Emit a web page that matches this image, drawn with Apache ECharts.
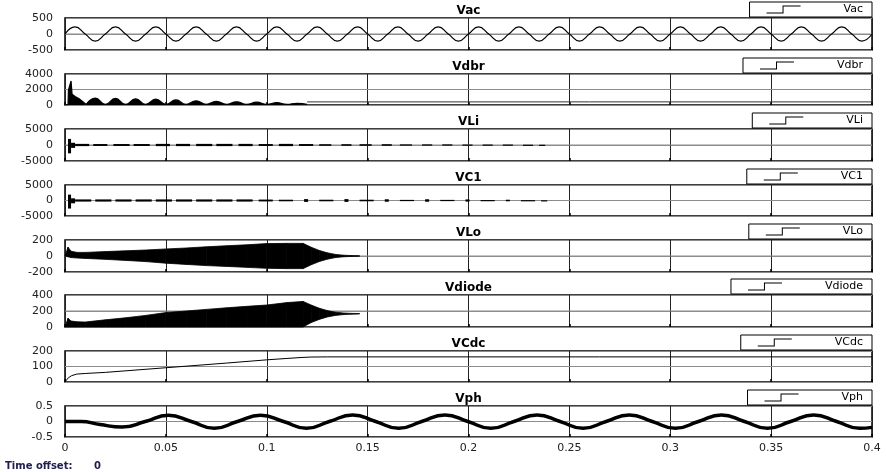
<!DOCTYPE html>
<html>
<head>
<meta charset="utf-8">
<script src="https://cdn.jsdelivr.net/npm/echarts@6/dist/echarts.min.js"></script>
<style>
  html, body { margin: 0; background: #fff; }
  #chart { width: 886px; height: 472px; }
</style>
</head>
<body>
<div id="chart"></div>
<script>
// ---- panels (top to bottom) ----
const names = ['Vac', 'Vdbr', 'VLi', 'VC1', 'VLo', 'Vdiode', 'VCdc', 'Vph'];
const yMins = [-500, 0, -5000, -5000, -200, 0, 0, -0.5];
const yMaxs = [500, 4000, 5000, 5000, 200, 400, 200, 0.5];
const yIntervals = [500, 2000, 5000, 5000, 200, 200, 100, 0.5];
const xTicks = [0, 0.4, 0.05]; // min, max, step

// Vac: peaks / zero crossings every 5 ms
const vacStep = 0.005;
const vacValues = [
  0, 220, 0, -220, 0, 220, 0, -220, 0, 220, 0, -220, 0, 220, 0, -220, 0, 220, 0, -220,
  0, 220, 0, -220, 0, 220, 0, -220, 0, 220, 0, -220, 0, 220, 0, -220, 0, 220, 0, -220,
  0, 220, 0, -220, 0, 220, 0, -220, 0, 220, 0, -220, 0, 220, 0, -220, 0, 220, 0, -220,
  0, 220, 0, -220, 0, 220, 0, -220, 0, 220, 0, -220, 0, 220, 0, -220, 0, 220, 0, -220, 0
];

// Vdbr: start-up spike, rectified humps, then flat
const vdbrSpikeT = [0, 0.0015, 0.0017, 0.0025, 0.003, 0.0035, 0.005, 0.007, 0.009, 0.0105];
const vdbrSpikeV = [0, 0, 1900, 1900, 3100, 1400, 1100, 800, 400, 80];
const vdbrHumpT = [0.0105, 0.015, 0.02, 0.025, 0.03, 0.035, 0.04, 0.045, 0.05, 0.055, 0.06, 0.065, 0.07,
  0.075, 0.08, 0.085, 0.09, 0.095, 0.1, 0.105, 0.11, 0.115, 0.12];
const vdbrHumpV = [80, 900, 80, 850, 80, 800, 80, 750, 80, 650, 80, 550, 80,
  480, 80, 420, 80, 360, 80, 300, 80, 220, 80];
const vdbrFlatT = [0.12, 0.4];
const vdbrFlatV = [400, 400];

// VLi / VC1: bursts as [start, end, low, high]
const vliBursts = [
  [0.0015, 0.003, -2600, 1900], [0.003, 0.005, -900, 700],
  [0.005, 0.012, -350, 350], [0.014, 0.021, -300, 300], [0.024, 0.032, -300, 300],
  [0.034, 0.042, -300, 300], [0.045, 0.052, -350, 350], [0.055, 0.062, -350, 350],
  [0.065, 0.073, -350, 350], [0.075, 0.083, -350, 350], [0.086, 0.093, -350, 350],
  [0.096, 0.103, -300, 300], [0.106, 0.113, -350, 350], [0.116, 0.123, -300, 300],
  [0.126, 0.132, -250, 250], [0.137, 0.142, -250, 250], [0.146, 0.152, -250, 250],
  [0.157, 0.162, -250, 250], [0.166, 0.172, -200, 200], [0.177, 0.182, -200, 200],
  [0.187, 0.192, -200, 200], [0.197, 0.202, -150, 150], [0.207, 0.212, -150, 150],
  [0.217, 0.222, -150, 150], [0.227, 0.232, -100, 100], [0.235, 0.238, -80, 80]
];
const vc1Bursts = [
  [0.0015, 0.003, -2600, 1900], [0.003, 0.005, -900, 700],
  [0.005, 0.013, -350, 350], [0.015, 0.023, -350, 350], [0.025, 0.033, -350, 350],
  [0.035, 0.043, -350, 350], [0.045, 0.053, -350, 350], [0.055, 0.063, -350, 350],
  [0.065, 0.073, -350, 350], [0.075, 0.083, -350, 350], [0.085, 0.093, -350, 350],
  [0.096, 0.103, -300, 300], [0.106, 0.113, -250, 250], [0.1185, 0.1205, -450, 450],
  [0.126, 0.133, -250, 250], [0.1385, 0.1405, -450, 450], [0.146, 0.153, -250, 250],
  [0.1585, 0.1605, -400, 400], [0.166, 0.173, -200, 200], [0.1785, 0.1805, -400, 400],
  [0.186, 0.193, -200, 200], [0.1985, 0.2005, -350, 350], [0.206, 0.213, -150, 150],
  [0.2185, 0.2205, -250, 250], [0.226, 0.233, -120, 120], [0.236, 0.239, -80, 80]
];

// VLo / Vdiode: envelope of the fast switching ripple
const vloT = [0, 0.0015, 0.003, 0.006, 0.01, 0.02, 0.03, 0.04, 0.05, 0.06, 0.07, 0.08, 0.09, 0.1,
  0.11, 0.118, 0.122, 0.126, 0.13, 0.134, 0.138, 0.142, 0.146];
const vloHigh = [0, 110, 60, 45, 45, 55, 65, 75, 88, 100, 115, 128, 140, 155,
  158, 158, 110, 70, 40, 20, 10, 5, 3];
const vloLow = [0, -10, -20, -25, -30, -42, -55, -70, -90, -105, -120, -130, -142, -154,
  -158, -158, -110, -70, -40, -20, -10, -5, -3];
const vdiodeHigh = [0, 110, 75, 65, 62, 90, 115, 145, 180, 200, 220, 240, 258, 275,
  305, 320, 275, 235, 205, 185, 175, 170, 168];
const vdiodeLow = [0, 0, 0, 0, 0, 0, 0, 0, 0, 0, 0, 0, 0, 0,
  0, 0, 55, 95, 125, 145, 155, 160, 163];

// VCdc
const vcdcT = [0, 0.001, 0.002, 0.0033, 0.0058, 0.01, 0.02, 0.05, 0.08, 0.1, 0.11, 0.117, 0.122, 0.13, 0.4];
const vcdcV = [0, 18, 30, 41, 51, 55, 62, 92, 122, 143, 152, 158, 161, 162, 162];

// Vph
const vphT = [0, 0.008, 0.0174, 0.0283, 0.0398, 0.0512, 0.0626, 0.074, 0.0855, 0.0969, 0.1083,
  0.1197, 0.131, 0.1426, 0.154, 0.1654, 0.1768, 0.1883, 0.1997, 0.2111, 0.2225, 0.234, 0.2454,
  0.2568, 0.2682, 0.2797, 0.2911, 0.3025, 0.314, 0.3254, 0.3368, 0.3482, 0.3597, 0.3711, 0.3825,
  0.3939, 0.4];
const vphV = [0, 0, -0.1, -0.18, 0, 0.2, 0, -0.22, 0, 0.2, 0,
  -0.22, 0, 0.21, 0, -0.22, 0, 0.21, 0, -0.22, 0, 0.21, 0,
  -0.22, 0, 0.21, 0, -0.22, 0, 0.21, 0, -0.22, 0, 0.21, 0,
  -0.22, -0.19];

// ---- layout ----
const plotLeft = 65, plotRight = 14;
const tops = [18, 74, 129, 185, 240, 295, 351, 406];
const heights = [32, 31, 32, 31, 32, 32, 31, 31];
const font = 'DejaVu Sans';
const zip = (t, v) => t.map((x, i) => [x, v[i]]);
const stepIcon = 'path://M0,7 L16,7 L16,0 L34,0 L34,1 L17,1 L17,8 L0,8 Z';

const chart = echarts.init(document.getElementById('chart'));

const grid = tops.map((top, i) => ({
  left: plotLeft, right: plotRight, top: top, height: heights[i],
  show: true, borderColor: '#000', borderWidth: 1.5
}));

const xAxis = tops.map((top, i) => ({
  type: 'value', gridIndex: i, min: xTicks[0], max: xTicks[1], interval: xTicks[2],
  axisLine: { show: false, onZero: false },
  axisTick: { show: true, inside: true, length: 3, lineStyle: { color: '#000', width: 1.5 } },
  axisLabel: {
    show: i === tops.length - 1, fontSize: 11, fontFamily: font, color: '#222', margin: 6
  },
  splitLine: { show: true, lineStyle: { color: '#222', width: 1 } }
}));

const yAxis = tops.map((top, i) => ({
  type: 'value', gridIndex: i, min: yMins[i], max: yMaxs[i], interval: yIntervals[i],
  axisLine: { show: false, onZero: false },
  axisTick: { show: false },
  axisLabel: { fontSize: 11, fontFamily: font, color: '#222', margin: 12, formatter: v => String(v) },
  splitLine: { show: true, lineStyle: { color: '#8c8c8c', width: 1 } }
}));

const lineBase = (i, name, data, extra) => Object.assign({
  name: name, type: 'line', xAxisIndex: i, yAxisIndex: i, data: data,
  showSymbol: false, symbol: 'none', color: '#000', animation: false,
  lineStyle: { color: '#000', width: 1.2 }
}, extra || {});

// light horizontal grid line at each panel's middle tick
const midLines = tops.map((top, i) => lineBase(i, 'grid' + i,
  [[xTicks[0], yMins[i] + yIntervals[i]], [xTicks[1], yMins[i] + yIntervals[i]]],
  { z: 1, silent: true, lineStyle: { color: '#8c8c8c', width: 1.2 } }));

function burstSeries(i, name, bursts) {
  return {
    name: name, type: 'custom', xAxisIndex: i, yAxisIndex: i, color: '#000',
    animation: false, data: bursts,
    encode: { x: [0, 1], y: [2, 3] },
    renderItem: function (params, api) {
      const a = api.coord([api.value(0), api.value(3)]);
      const b = api.coord([api.value(1), api.value(2)]);
      return {
        type: 'rect',
        shape: { x: a[0], y: a[1], width: Math.max(b[0] - a[0], 1), height: Math.max(b[1] - a[1], 1.2) },
        style: { fill: '#000' }
      };
    }
  };
}

// filled envelope: one quad per pair of neighbouring samples
function bandSeries(i, name, t, low, high) {
  const segs = [];
  for (let k = 0; k < t.length - 1; k++) {
    segs.push([t[k], t[k + 1], low[k], high[k], low[k + 1], high[k + 1]]);
  }
  return {
    name: name, type: 'custom', xAxisIndex: i, yAxisIndex: i, color: '#000',
    animation: false, data: segs,
    encode: { x: [0, 1], y: [2, 3, 4, 5] },
    renderItem: function (params, api) {
      const t0 = api.value(0), t1 = api.value(1);
      const pts = [
        api.coord([t0, api.value(3)]), api.coord([t1, api.value(5)]),
        api.coord([t1, api.value(4)]), api.coord([t0, api.value(2)])
      ];
      return {
        type: 'polygon', shape: { points: pts },
        style: { fill: '#000', stroke: '#000', lineWidth: 0.8 }
      };
    }
  };
}

const series = [
  ...midLines,
  lineBase(0, 'Vac', vacValues.map((v, k) => [k * vacStep, v]), { smooth: true }),
  lineBase(1, 'Vdbr', zip(vdbrSpikeT, vdbrSpikeV), { areaStyle: { color: '#000', opacity: 1 } }),
  lineBase(1, 'Vdbr', zip(vdbrHumpT, vdbrHumpV), { smooth: true, areaStyle: { color: '#000', opacity: 1 } }),
  lineBase(1, 'Vdbr', zip(vdbrFlatT, vdbrFlatV), { lineStyle: { color: '#333', width: 1 } }),
  burstSeries(2, 'VLi', vliBursts),
  burstSeries(3, 'VC1', vc1Bursts),
  bandSeries(4, 'VLo', vloT, vloLow, vloHigh),
  bandSeries(5, 'Vdiode', vloT, vdiodeLow, vdiodeHigh),
  lineBase(6, 'VCdc', zip(vcdcT, vcdcV), { lineStyle: { color: '#000', width: 1 } }),
  lineBase(7, 'Vph', zip(vphT, vphV), { smooth: true, lineStyle: { color: '#000', width: 3.5 } })
];

const legend = names.map((name, i) => ({
  data: [name], right: plotRight, top: tops[i] - 16, selectedMode: false,
  icon: stepIcon, itemWidth: 34, itemHeight: 8, itemGap: 0,
  padding: [2, 9, 2, 17], borderColor: '#000', borderWidth: 1, backgroundColor: '#fff',
  textStyle: { fontSize: 11, lineHeight: 11, fontFamily: font, color: '#000', padding: [0, 0, 0, 38] }
}));

const graphic = names.map((name, i) => ({
  type: 'text', x: plotLeft + (886 - plotLeft - plotRight) / 2, y: tops[i] - 7,
  style: {
    text: name, fontSize: 12, fontWeight: 'bold', fontFamily: font, fill: '#000',
    align: 'center', verticalAlign: 'middle'
  }
}));
graphic.push({
  type: 'text', x: 5, y: 466,
  style: {
    text: 'Time offset:', fontSize: 10, fontWeight: 'bold', fontFamily: font, fill: '#202050',
    align: 'left', verticalAlign: 'middle'
  }
}, {
  type: 'text', x: 94, y: 466,
  style: {
    text: '0', fontSize: 10, fontWeight: 'bold', fontFamily: font, fill: '#202050',
    align: 'left', verticalAlign: 'middle'
  }
});

chart.setOption({
  animation: false,
  grid: grid,
  xAxis: xAxis,
  yAxis: yAxis,
  legend: legend,
  graphic: graphic,
  series: series
});
</script>
</body>
</html>
